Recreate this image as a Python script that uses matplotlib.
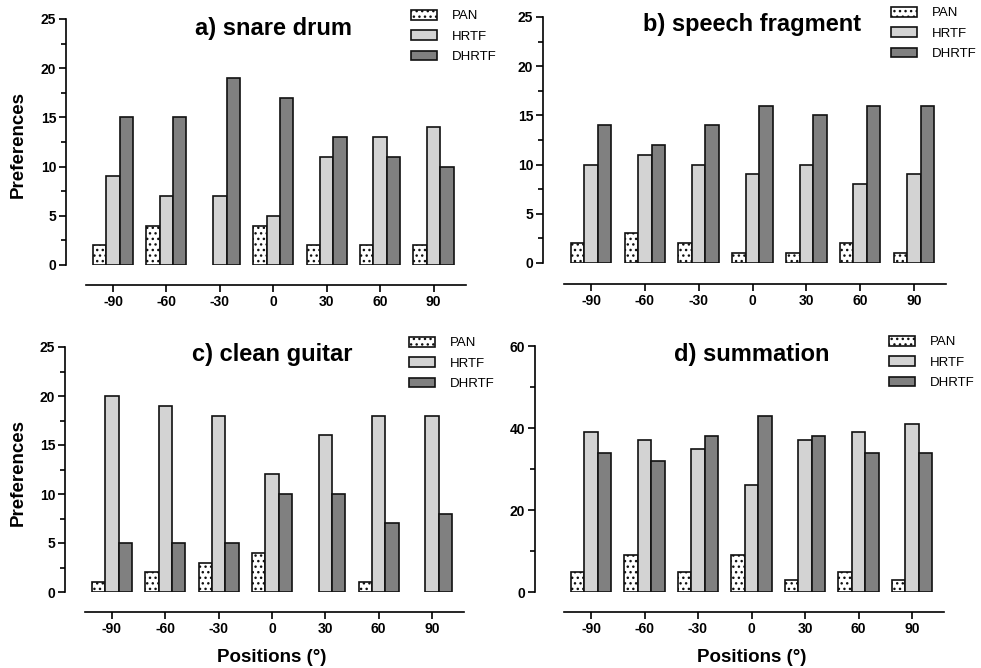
import matplotlib
matplotlib.use("Agg")
import matplotlib.pyplot as plt
import numpy as np
from matplotlib.patches import Patch
from matplotlib.transforms import blended_transform_factory
from matplotlib.ticker import MultipleLocator

plt.rcParams['font.family'] = ['Liberation Sans', 'DejaVu Sans']
plt.rcParams['hatch.linewidth'] = 1.0

positions = ["-90", "-60", "-30", "0", "30", "60", "90"]
series_names = ["PAN", "HRTF", "DHRTF"]

snare_pan = [2, 4, 0, 4, 2, 2, 2]
snare_hrtf = [9, 7, 7, 5, 11, 13, 14]
snare_dhrtf = [15, 15, 19, 17, 13, 11, 10]

speech_pan = [2, 3, 2, 1, 1, 2, 1]
speech_hrtf = [10, 11, 10, 9, 10, 8, 9]
speech_dhrtf = [14, 12, 14, 16, 15, 16, 16]

guitar_pan = [1, 2, 3, 4, 0, 1, 0]
guitar_hrtf = [20, 19, 18, 12, 16, 18, 18]
guitar_dhrtf = [5, 5, 5, 10, 10, 7, 8]

sum_pan = [5, 9, 5, 9, 3, 5, 3]
sum_hrtf = [39, 37, 35, 26, 37, 39, 41]
sum_dhrtf = [34, 32, 38, 43, 38, 34, 34]

W, H = 981, 668
fig = plt.figure(figsize=(W / 100, H / 100), dpi=100)

styles = [
    dict(facecolor="white", hatch="..."),
    dict(facecolor="#d3d3d3", hatch=None),
    dict(facecolor="#808080", hatch=None),
]

# pixel layout per panel: spine x, top, bottom, first/last group centre, etc.
panels = [
    dict(title="a) snare drum", data=(snare_pan, snare_hrtf, snare_dhrtf),
         left=66, top=19, bottom=265, x0=113, x6=433.5, ymax=25, major=5, minor=2.5,
         title_y=29, leg=(411, 10), out=20, ylabel=True, xlabel=False),
    dict(title="b) speech fragment", data=(speech_pan, speech_hrtf, speech_dhrtf),
         left=543, top=17, bottom=263, x0=591, x6=914, ymax=25, major=5, minor=2.5,
         title_y=25, leg=(891, 7), out=21, ylabel=False, xlabel=False),
    dict(title="c) clean guitar", data=(guitar_pan, guitar_hrtf, guitar_dhrtf),
         left=65, top=347, bottom=592, x0=112, x6=432, ymax=25, major=5, minor=2.5,
         title_y=355, leg=(409, 337), out=20, ylabel=True, xlabel=True),
    dict(title="d) summation", data=(sum_pan, sum_hrtf, sum_dhrtf),
         left=535, top=346, bottom=592, x0=591, x6=912, ymax=60, major=20, minor=10,
         title_y=355, leg=(889, 336), out=20, ylabel=False, xlabel=True),
]

x = np.arange(len(positions))
bw = 0.25
edge = "#111111"

for p in panels:
    ppu = (p["x6"] - p["x0"]) / 6.0
    xmin = (p["left"] - p["x0"]) / ppu
    xmax = 6.7
    right = p["x0"] + xmax * ppu
    ax = fig.add_axes([p["left"] / W, 1 - p["bottom"] / H,
                       (right - p["left"]) / W, (p["bottom"] - p["top"]) / H])
    for i, vals in enumerate(p["data"]):
        bars = ax.bar(x + (i - 1) * bw, vals, width=bw, edgecolor=edge,
                      linewidth=1.2, label=series_names[i], **styles[i])
        for b, v in zip(bars, vals):
            if v == 0:
                b.set_visible(False)
    ax.set_xlim(xmin, xmax)
    ax.set_ylim(0, p["ymax"])

    for s in ("top", "right"):
        ax.spines[s].set_visible(False)
    ax.spines["left"].set_linewidth(1.2)
    ax.spines["bottom"].set_linewidth(1.2)
    ax.spines["bottom"].set_position(("outward", p["out"] * 0.72))
    ax.spines["bottom"].set_bounds(-0.5, 6.6)

    ax.yaxis.set_major_locator(MultipleLocator(p["major"]))
    ax.yaxis.set_minor_locator(MultipleLocator(p["minor"]))
    ax.set_xticks(x)
    ax.set_xticklabels(positions)
    ax.tick_params(axis="both", which="major", length=5, width=1.2, pad=2,
                   labelsize=10)
    ax.tick_params(axis="y", which="minor", length=3.5, width=1.2)
    ax.tick_params(axis="x", which="minor", length=0)
    for lab in ax.get_xticklabels() + ax.get_yticklabels():
        lab.set_fontweight("bold")

    tr = blended_transform_factory(ax.transData, fig.transFigure)
    ax.text(3, 1 - p["title_y"] / H, p["title"], transform=tr, ha="center",
            va="center", fontsize=17, fontweight="bold")

    handles = [Patch(edgecolor=edge, linewidth=1.2, **styles[i]) for i in range(3)]
    fig.legend(handles, series_names, loc="upper left",
               bbox_to_anchor=(p["leg"][0] / W, 1 - p["leg"][1] / H),
               bbox_transform=fig.transFigure, frameon=False, fontsize=9.5,
               handlelength=2.0, handleheight=0.75, handletextpad=1.1,
               labelspacing=0.6, borderpad=0, borderaxespad=0)

    if p["ylabel"]:
        yc = (p["top"] + p["bottom"]) / 2 + 3
        fig.text(18 / W, 1 - yc / H, "Preferences", rotation=90, ha="center",
                 va="center", fontsize=13.5, fontweight="bold")
    if p["xlabel"]:
        ax.text(3, 1 - 657 / H, "Positions (°)", transform=tr, ha="center",
                va="center", fontsize=13.5, fontweight="bold")

fig.savefig("out.png", dpi=100)
